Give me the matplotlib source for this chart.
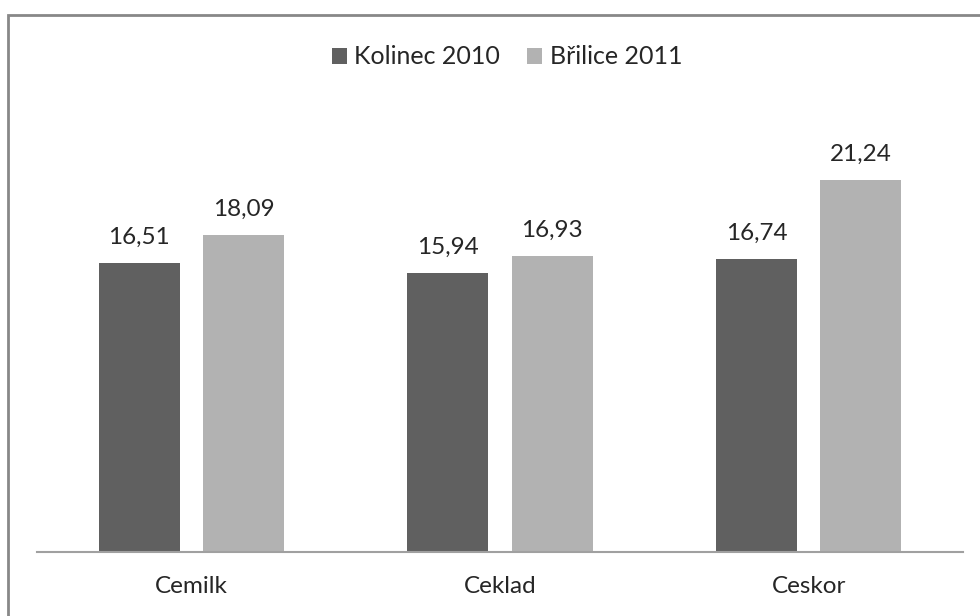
import matplotlib
matplotlib.use("Agg")
import matplotlib.pyplot as plt
from matplotlib.patches import Rectangle, Patch
import numpy as np

categories = ["Cemilk", "Ceklad", "Ceskor"]
series_names = ["Kolinec 2010", "Břilice 2011"]
kolinec_2010 = [16.51, 15.94, 16.74]
brilice_2011 = [18.09, 16.93, 21.24]

colors = ["#606060", "#b2b2b2"]
text_color = "#262626"

plt.rcParams["font.family"] = ["Lato", "DejaVu Sans"]

fig = plt.figure(figsize=(9.8, 6.16), dpi=100)
W, H = 980, 616
ax = fig.add_axes([37 / W, 1 - 552 / H, (963 - 37) / W, (552 - 114.5) / H])

x = np.arange(len(categories))
bw = 0.263
gap = 0.075
offsets = [-(bw + gap) / 2, (bw + gap) / 2]

for vals, off, col in zip([kolinec_2010, brilice_2011], offsets, colors):
    bars = ax.bar(x + off, vals, width=bw, color=col, zorder=2)
    for b, v in zip(bars, vals):
        ax.annotate(f"{v:.2f}".replace(".", ","),
                    (b.get_x() + b.get_width() / 2, v),
                    xytext=(0, 11), textcoords="offset points",
                    ha="center", va="bottom", fontsize=17.5, color=text_color)

ax.set_xlim(-0.5, len(categories) - 0.5)
ax.set_ylim(0, 25)
ax.set_yticks([])
ax.set_xticks(x)
ax.set_xticklabels(categories, fontsize=17.5, color=text_color)
ax.tick_params(axis="x", length=0, pad=17)
for s in ["top", "right", "left"]:
    ax.spines[s].set_visible(False)
ax.spines["bottom"].set_color("#a0a0a0")
ax.spines["bottom"].set_linewidth(1.5)

handles = [Patch(facecolor=c, edgecolor="none") for c in colors]
leg = fig.legend(handles, series_names, loc="center", bbox_to_anchor=(507 / W, 1 - 57 / H),
                 ncol=2, frameon=False, fontsize=18, handlelength=0.6, handleheight=0.6,
                 handletextpad=0.3, columnspacing=1.1)
for t in leg.get_texts():
    t.set_color(text_color)

# chart area frame
fig.patches.append(Rectangle((8 / W, -0.05), 1.2, 1 - 15 / H + 0.05, transform=fig.transFigure,
                             fill=False, edgecolor="#888888", linewidth=2, zorder=0))

fig.savefig("out.png", dpi=100, facecolor="white")
